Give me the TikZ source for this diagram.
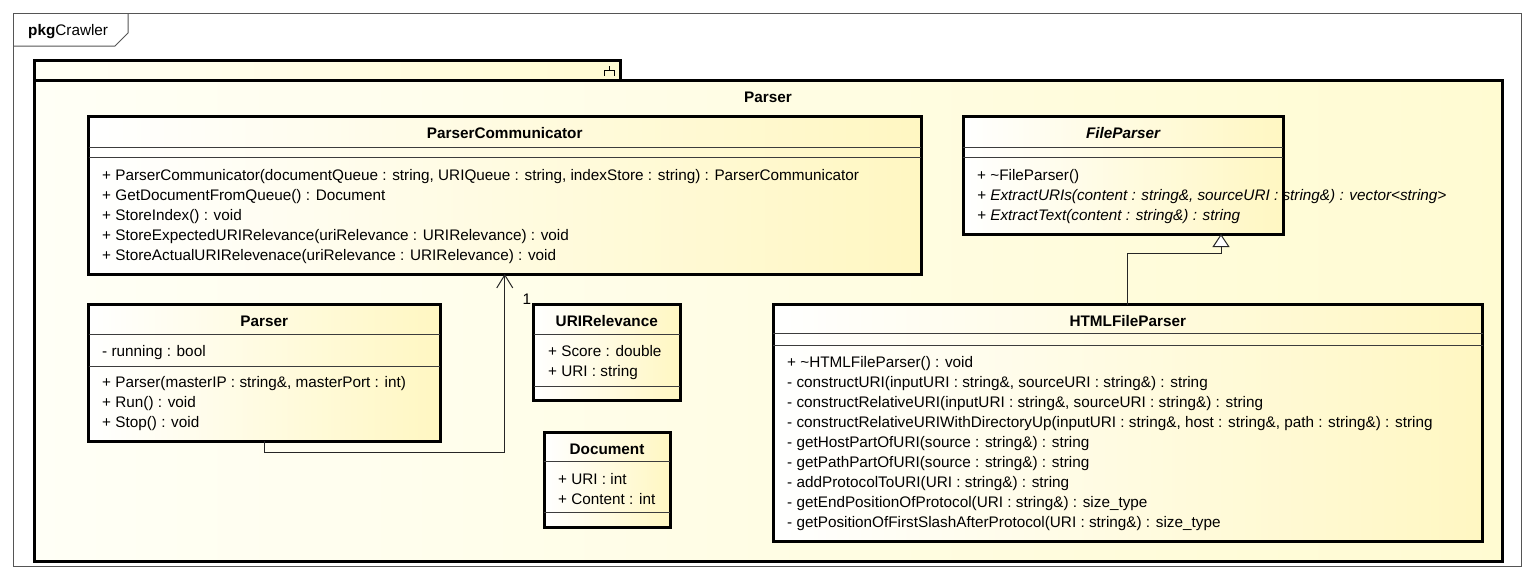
\documentclass[tikz,border=0pt]{standalone}
\usepackage{fontspec}
\setmainfont{Liberation Sans}
\usetikzlibrary{arrows.meta}

\definecolor{classcream}{HTML}{FFF7C2}
\definecolor{pkgcream}{HTML}{FFFBD2}
\definecolor{pkglight}{HTML}{FFFFF6}
\definecolor{framegray}{HTML}{555555}
\definecolor{sepgray}{HTML}{3C3C3C}

\tikzset{
  umlbox/.style={draw=black, line width=3pt, left color=white, right color=classcream,
    inner sep=0pt, outer sep=0pt, anchor=north west},
  pkgbox/.style={draw=black, line width=3pt, left color=pkglight, right color=pkgcream,
    inner sep=0pt, outer sep=0pt, anchor=north west},
  sepline/.style={draw=sepgray, line width=1pt},
  member/.style={font=\fontsize{15.3}{18}\selectfont, inner sep=0pt, anchor=base west},
  amember/.style={member, font=\fontsize{15.3}{18}\selectfont\itshape},
  title/.style={font=\fontsize{15.3}{18}\selectfont\bfseries, inner sep=0pt, anchor=base},
  assoc/.style={draw=black!85, line width=1pt, -{Straight Barb[length=13pt,width=16pt]}},
  generalize/.style={draw=black!85, line width=1pt,
    -{Triangle[length=13pt,width=17pt,fill=white,line width=1pt]}},
}

\begin{document}
\begin{tikzpicture}[x=1pt, y=-1pt]
  % page and outer frame
  \fill[white] (0,0) rectangle (1533,581);
  \useasboundingbox (0,0) rectangle (1533,581);
  \draw[framegray, line width=1pt] (13,13) rectangle (1521,566);
  \draw[framegray, line width=1pt] (13,46) -- (115,46) -- (128,33) -- (128,13);
  \node[member] (pkgname) at (28,35) {\textbf{pkg}Crawler};

  % package Parser
  \node[pkgbox, minimum width=586.5pt, minimum height=20pt] (pkgtab) at (34,60) {};
  \node[pkgbox, minimum width=1468pt, minimum height=481pt] (pkg) at (34,80) {};
  \draw[black, line width=1pt] (609,66) -- (609,70.5)
    (604,75.5) -- (604,70.5) -- (614,70.5) -- (614,75.5);
  \node[title] (pkgtitle) at (768,102.5) {Parser};

  % ParserCommunicator
  \node[umlbox, minimum width=832.5pt, minimum height=157.5pt] (pc) at (88.5,116.5) {};
  \draw[sepline] (pc.west |- 0,147) -- (pc.east |- 0,147);
  \draw[sepline] (pc.west |- 0,157.5) -- (pc.east |- 0,157.5);
  \node[title] (pct) at (504.75,138) {ParserCommunicator};
  \node[member] (pc1) at (102,180.5) {+ ParserCommunicator(documentQueue : string, URIQueue : string, indexStore : string) : ParserCommunicator};
  \node[member] (pc2) at (102,200.5) {+ GetDocumentFromQueue() : Document};
  \node[member] (pc3) at (102,220.5) {+ StoreIndex() : void};
  \node[member] (pc4) at (102,240.5) {+ StoreExpectedURIRelevance(uriRelevance : URIRelevance) : void};
  \node[member] (pc5) at (102,260.5) {+ StoreActualURIRelevenace(uriRelevance : URIRelevance) : void};

  % FileParser (abstract)
  \node[umlbox, minimum width=320pt, minimum height=117.5pt] (fp) at (963,116.5) {};
  \draw[sepline] (fp.west |- 0,147) -- (fp.east |- 0,147);
  \draw[sepline] (fp.west |- 0,157.5) -- (fp.east |- 0,157.5);
  \node[title, font=\fontsize{15.3}{18}\selectfont\bfseries\itshape] (fpt) at (1123,138) {FileParser};
  \node[member] (fp1) at (977,180.5) {+ \textasciitilde FileParser()};
  \node[amember] (fp2) at (977,200.5) {+ ExtractURIs(content : string\&, sourceURI : string\&) : vector<string>};
  \node[amember] (fp3) at (977,220.5) {+ ExtractText(content : string\&) : string};

  % Parser
  \node[umlbox, minimum width=351.5pt, minimum height=136.5pt] (parser) at (88.5,304.5) {};
  \draw[sepline] (parser.west |- 0,334.5) -- (parser.east |- 0,334.5);
  \draw[sepline] (parser.west |- 0,366) -- (parser.east |- 0,366);
  \node[title] (parsert) at (264.25,326) {Parser};
  \node[member] (pa1) at (102,356.5) {- running : bool};
  \node[member] (pa2) at (102,387.5) {+ Parser(masterIP : string\&, masterPort : int)};
  \node[member] (pa3) at (102,407.5) {+ Run() : void};
  \node[member] (pa4) at (102,427.5) {+ Stop() : void};

  % URIRelevance
  \node[umlbox, minimum width=146.5pt, minimum height=95.5pt] (ur) at (533.5,304.5) {};
  \draw[sepline] (ur.west |- 0,334.5) -- (ur.east |- 0,334.5);
  \draw[sepline] (ur.west |- 0,386.5) -- (ur.east |- 0,386.5);
  \node[title] (urt) at (606.75,326.5) {URIRelevance};
  \node[member] (ur1) at (548,356.5) {+ Score : double};
  \node[member] (ur2) at (548,376.5) {+ URI : string};

  % Document
  \node[umlbox, minimum width=126pt, minimum height=95pt] (doc) at (544,432) {};
  \draw[sepline] (doc.west |- 0,461.5) -- (doc.east |- 0,461.5);
  \draw[sepline] (doc.west |- 0,512.5) -- (doc.east |- 0,512.5);
  \node[title] (doct) at (607,454.5) {Document};
  \node[member] (doc1) at (558,484) {+ URI : int};
  \node[member] (doc2) at (558,504) {+ Content : int};

  % HTMLFileParser
  \node[umlbox, minimum width=709.5pt, minimum height=237pt] (hp) at (773,304.5) {};
  \draw[sepline] (hp.west |- 0,333.5) -- (hp.east |- 0,333.5);
  \draw[sepline] (hp.west |- 0,345) -- (hp.east |- 0,345);
  \node[title] (hpt) at (1127.75,326) {HTMLFileParser};
  \node[member] (hp1) at (787,367.5) {+ \textasciitilde HTMLFileParser() : void};
  \node[member] (hp2) at (787,387.5) {- constructURI(inputURI : string\&, sourceURI : string\&) : string};
  \node[member] (hp3) at (787,407.5) {- constructRelativeURI(inputURI : string\&, sourceURI : string\&) : string};
  \node[member] (hp4) at (787,427.5) {- constructRelativeURIWithDirectoryUp(inputURI : string\&, host : string\&, path : string\&) : string};
  \node[member] (hp5) at (787,447.5) {- getHostPartOfURI(source : string\&) : string};
  \node[member] (hp6) at (787,467.5) {- getPathPartOfURI(source : string\&) : string};
  \node[member] (hp7) at (787,487.5) {- addProtocolToURI(URI : string\&) : string};
  \node[member] (hp8) at (787,507.5) {- getEndPositionOfProtocol(URI : string\&) : size\_type};
  \node[member] (hp9) at (787,527.5) {- getPositionOfFirstSlashAfterProtocol(URI : string\&) : size\_type};

  % relationships
  \draw[assoc] (parser.south) -- ++(0,11) -| (pc.south);
  \node[member] (mult) at (522.5,304) {1};
  \draw[generalize] (hp.north) |- ([xshift=-62pt,yshift=-19pt]fp.south east)
    -- ([xshift=-62pt]fp.south east);
\end{tikzpicture}
\end{document}
